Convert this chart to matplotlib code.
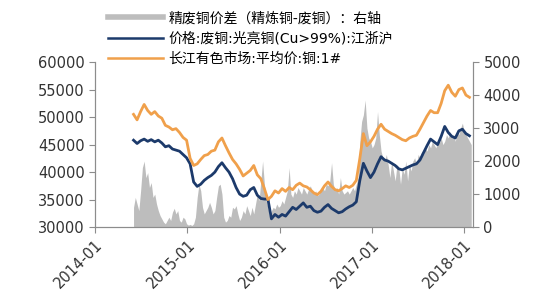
import numpy as np
import pandas as pd
import matplotlib
matplotlib.use("Agg")
import matplotlib.pyplot as plt
import matplotlib.dates as mdates
from matplotlib.lines import Line2D

plt.rcParams['font.family'] = ['DejaVu Sans', 'Noto Sans CJK SC']

# 周度日期（价差），双周取样（价格）
dates = pd.date_range('2014-06-02', periods=192, freq='7D')
dates_line = dates[::2]

# 精废铜价差（右轴），周度
spread = [600, 900, 700, 500, 1100, 1800, 2000, 1500, 1650, 1200,
          1350, 900, 1000, 700, 500, 350, 250, 150, 100, 200,
          300, 200, 450, 570, 400, 500, 200, 150, 300, 250,
          100, 60, 80, 50, 100, 300, 900, 1300, 1100, 600,
          400, 500, 600, 750, 600, 400, 500, 900, 1250, 1300,
          1000, 300, 150, 200, 350, 300, 600, 550, 650, 400,
          200, 300, 500, 400, 650, 500, 350, 600, 400, 700,
          1000, 800, 1400, 2000, 1300, 800, 600, 300, 500, 600,
          550, 700, 600, 650, 800, 700, 900, 1100, 1800, 1000,
          900, 1100, 1000, 1200, 1100, 1000, 1200, 1100, 1000, 1150,
          1250, 1100, 1000, 1100, 950, 1000, 1150, 1200, 1100, 1300,
          1250, 1400, 1950, 1300, 1100, 1200, 1000, 1500, 1100, 1000,
          1050, 1100, 1000, 1100, 1200, 1100, 1300, 1500, 2600, 3200,
          3400, 3850, 3000, 2700, 2600, 2400, 2500, 2700, 3500, 2800,
          2300, 2100, 2000, 2200, 1900, 1500, 2000, 1700, 1400, 1900,
          1800, 1300, 1800, 1600, 2000, 1400, 1900, 1700, 2000, 2100,
          1900, 2200, 2100, 2300, 2200, 2400, 2300, 2500, 2400, 2600,
          2500, 2400, 2600, 2550, 2700, 2500, 2600, 2800, 2700, 2900,
          2700, 2800, 2600, 2900, 2800, 3000, 3150, 2900, 2800, 2700,
          2600, 2500]

# 价格:废铜:光亮铜(Cu>99%):江浙沪
scrap = [45800, 45200, 45700, 46000, 45600, 45900, 45500, 45800, 45300, 44600,
         44800, 44200, 44000, 43800, 43200, 42600, 41500, 38200, 37400, 37800,
         38500, 39000, 39400, 40000, 41000, 41700, 40800, 40000, 38800, 37200,
         36000, 35600, 35800, 36800, 37200, 35800, 35200, 35100, 35100, 31500,
         32300, 31800, 32300, 32000, 32800, 33600, 33200, 33800, 34400, 33600,
         33800, 33000, 32700, 32900, 33600, 34100, 33400, 33000, 32600, 32800,
         33300, 33700, 34000, 34600, 38500, 41600, 40200, 39000, 40000, 41500,
         42800, 42200, 42000, 41600, 41200, 40600, 40400, 40700, 41000, 41300,
         41500, 42200, 43500, 44800, 46000, 45500, 45000, 46500, 48300, 47200,
         46500, 46200, 47500, 47800, 47000, 46600]

# 长江有色市场:平均价:铜:1#
refined = [50500, 49500, 51000, 52300, 51200, 50500, 51000, 50200, 49800, 48500,
           48200, 47700, 47900, 47200, 46300, 45800, 42500, 41200, 41500, 42300,
           43000, 43200, 43800, 44000, 45500, 46200, 44800, 43500, 42300, 41500,
           40500, 39300, 39800, 40300, 41200, 39500, 38800, 37000, 35000, 35600,
           36600, 36200, 37000, 36500, 37200, 36800, 37600, 38000, 37500, 37300,
           36800, 36200, 35900, 36500, 37500, 38200, 37400, 36800, 36600, 37000,
           37500, 37200, 37600, 38500, 42500, 47000, 44800, 45500, 46500, 47800,
           48700, 47800, 47400, 47000, 46700, 46300, 45900, 45700, 46200, 46500,
           46700, 47800, 49000, 50200, 51200, 50800, 50800, 52500, 54800, 55800,
           54500, 53800, 55000, 55300, 54000, 53600]

labels = ['精废铜价差（精炼铜-废铜）：右轴',
          '价格:废铜:光亮铜(Cu>99%):江浙沪',
          '长江有色市场:平均价:铜:1#']

c_gray = '#bdbdbd'
c_blue = '#1c3a6b'
c_orange = '#f0a04b'
c_axis = '#8c8c8c'
c_text = '#333333'

fig = plt.figure(figsize=(5.5, 3.0), dpi=100)
fig.subplots_adjust(left=0.173, right=0.86, bottom=0.243, top=0.793)
ax1 = fig.add_subplot(111)
ax2 = ax1.twinx()

ax2.fill_between(dates, spread, 0, color=c_gray, linewidth=0)
ax1.plot(dates_line, scrap, color=c_blue, lw=2.0)
ax1.plot(dates_line, refined, color=c_orange, lw=2.0)

ax1.set_zorder(ax2.get_zorder() + 1)
ax1.patch.set_visible(False)

ax1.set_xlim(pd.Timestamp('2014-01-01'), pd.Timestamp('2018-02-05'))
ax1.set_ylim(30000, 60000)
ax1.set_yticks(np.arange(30000, 60001, 5000))
ax2.set_ylim(0, 5000)
ax2.set_yticks(np.arange(0, 5001, 1000))

ax1.xaxis.set_major_locator(mdates.YearLocator(month=1, day=1))
ax1.xaxis.set_major_formatter(mdates.DateFormatter('%Y-%m'))
for lab in ax1.get_xticklabels():
    lab.set_rotation(45)
    lab.set_ha('right')
    lab.set_rotation_mode('anchor')

for ax in (ax1, ax2):
    ax.spines['top'].set_visible(False)
    for s in ('left', 'right', 'bottom'):
        ax.spines[s].set_color(c_axis)
    ax.tick_params(colors=c_axis, labelcolor=c_text, labelsize=10.5, length=4)

legend_handles = [Line2D([], [], color=c_gray, lw=4),
                  Line2D([], [], color=c_blue, lw=1.8),
                  Line2D([], [], color=c_orange, lw=1.8)]
fig.legend(legend_handles, labels, loc='upper left',
           bbox_to_anchor=(0.182, 0.99), frameon=False, fontsize=10,
           handlelength=3.9, handletextpad=0.4, labelspacing=0.45,
           borderaxespad=0.2)

fig.savefig('out.png', dpi=100)
